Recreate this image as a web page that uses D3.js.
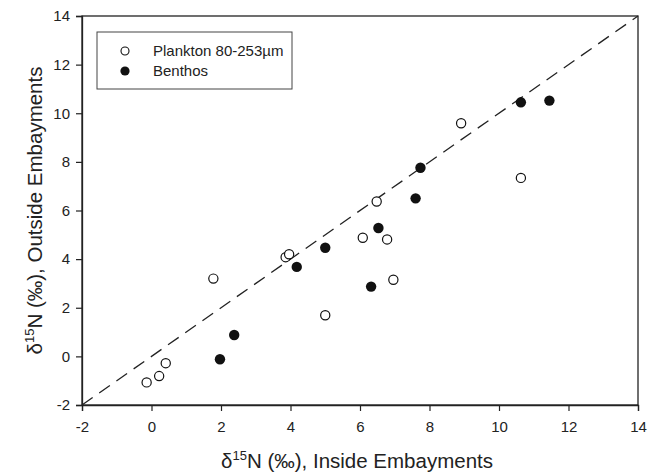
<!DOCTYPE html>
<html>
<head>
<meta charset="utf-8">
<script src="https://cdn.jsdelivr.net/npm/d3@7"></script>
<style>
  body { margin: 0; background: #fff; }
  svg { font-family: "Liberation Sans", Arial, sans-serif; }
</style>
</head>
<body>
<svg id="chart" width="657" height="476"></svg>
<script>
const planktonX = [-0.14, 0.22, 0.41, 1.78, 3.86, 3.96, 5.0, 6.08, 6.48, 6.78, 6.96, 8.91, 10.63]
const planktonY = [-1.07, -0.81, -0.28, 3.2, 4.08, 4.2, 1.69, 4.88, 6.37, 4.81, 3.15, 9.59, 7.34]
const benthosX = [1.97, 2.38, 4.18, 5.0, 6.32, 6.53, 7.6, 7.74, 10.63, 11.45]
const benthosY = [-0.12, 0.88, 3.68, 4.47, 2.87, 5.28, 6.5, 7.76, 10.45, 10.52]
const ticks = [-2, 0, 2, 4, 6, 8, 10, 12, 14]
const seriesNames = ["Plankton 80-253\u00b5m", "Benthos"]

const margins = { top: 16, bottom: 71, right: 19, left: 82 }

const svg = d3.select("#chart")
const width = 657 - margins.left - margins.right
const height = 476 - margins.top - margins.bottom

const x = d3.scaleLinear().domain([-2, 14]).range([0, width])
const y = d3.scaleLinear().domain([-2, 14]).range([height, 0])

const g = svg.append("g")
    .attr("transform", "translate(" + margins.left + "," + margins.top + ")")

// frame
g.append("rect")
    .attr("width", width)
    .attr("height", height)
    .attr("fill", "none")
    .attr("stroke", "#222")
    .attr("stroke-width", 1.3)

const xAxis = g.append("g")
    .attr("transform", "translate(0," + height + ")")
    .call(d3.axisBottom(x).tickValues(ticks).tickFormat(d => String(d)).tickSize(6).tickPadding(10))
const yAxis = g.append("g")
    .call(d3.axisLeft(y).tickValues(ticks).tickFormat(d => String(d)).tickSize(6).tickPadding(6))

for (const ax of [xAxis, yAxis]) {
    ax.select(".domain").attr("stroke", "#222").attr("stroke-width", 1.3)
    ax.selectAll(".tick line").attr("stroke", "#222").attr("stroke-width", 1.2)
    ax.selectAll(".tick text")
        .attr("fill", "#222")
        .attr("font-size", "15px")
        .attr("font-family", "Liberation Sans, Arial, sans-serif")
}

// 1:1 line
g.append("line")
    .attr("x1", x(-2)).attr("y1", y(-2))
    .attr("x2", x(14)).attr("y2", y(14))
    .attr("stroke", "#222")
    .attr("stroke-width", 1.3)
    .attr("stroke-dasharray", "13,8")

g.selectAll(".plankton")
    .data(planktonX)
    .enter().append("circle")
    .attr("class", "plankton")
    .attr("cx", d => x(d))
    .attr("cy", (d, i) => y(planktonY[i]))
    .attr("r", 4.6)
    .attr("fill", "#fff")
    .attr("stroke", "#111")
    .attr("stroke-width", 1.2)

g.selectAll(".benthos")
    .data(benthosX)
    .enter().append("circle")
    .attr("class", "benthos")
    .attr("cx", d => x(d))
    .attr("cy", (d, i) => y(benthosY[i]))
    .attr("r", 5.2)
    .attr("fill", "#111")

// legend
svg.append("rect")
    .attr("x", 97).attr("y", 32)
    .attr("width", 195).attr("height", 57)
    .attr("fill", "#fff")
    .attr("stroke", "#444")
    .attr("stroke-width", 1)

svg.append("circle")
    .attr("cx", 125).attr("cy", 51).attr("r", 4)
    .attr("fill", "#fff").attr("stroke", "#111").attr("stroke-width", 1.1)
svg.append("circle")
    .attr("cx", 125).attr("cy", 71).attr("r", 4.6)
    .attr("fill", "#111")

seriesNames.forEach((name, i) => {
    svg.append("text")
        .attr("x", 153)
        .attr("y", 56 + i * 20)
        .attr("font-size", "15px")
        .attr("fill", "#222")
        .text(name)
})

// axis titles
const xt = svg.append("text")
    .attr("x", 357)
    .attr("y", 468)
    .attr("text-anchor", "middle")
    .attr("font-size", "20.5px")
    .attr("fill", "#222")
xt.append("tspan").text("\u03b4")
xt.append("tspan").attr("dy", -8).attr("font-size", "13px").text("15")
xt.append("tspan").attr("dy", 8).text("N (\u2030), Inside Embayments")

const yt = svg.append("text")
    .attr("transform", "translate(42," + (margins.top + height / 2) + ") rotate(-90)")
    .attr("text-anchor", "middle")
    .attr("font-size", "20.5px")
    .attr("fill", "#222")
yt.append("tspan").text("\u03b4")
yt.append("tspan").attr("dy", -8).attr("font-size", "13px").text("15")
yt.append("tspan").attr("dy", 8).text("N (\u2030), Outside Embayments")
</script>
</body>
</html>
